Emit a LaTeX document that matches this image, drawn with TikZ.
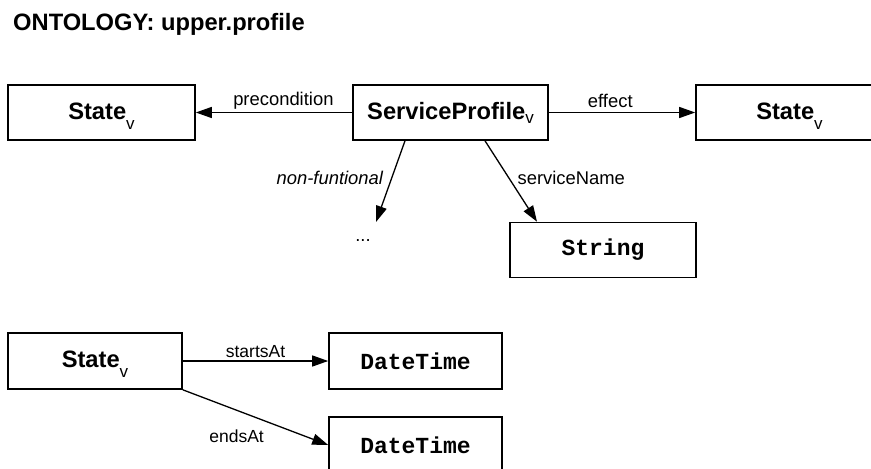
\documentclass[tikz,border=0pt]{standalone}
\usepackage{fontspec}
\setmainfont{Liberation Sans}
\setmonofont{Liberation Mono}
\usepackage{tikz}
\usetikzlibrary{arrows.meta,positioning}

\newcommand{\vsub}[1]{\raisebox{#1}{\fontsize{17}{17}\selectfont\mdseries v}}

\begin{document}
\begin{tikzpicture}[
    concept/.style={rectangle, draw=black, line width=1.6pt, minimum height=55pt, text height=18pt, text depth=5pt, font=\fontsize{23.7}{26}\selectfont\bfseries},
    literal/.style={rectangle, draw=black, line width=1.6pt, minimum height=55pt, font=\fontsize{23}{26}\selectfont\ttfamily\bfseries},
    prop/.style={font=\fontsize{18.4}{20}\selectfont},
    arrow/.style={line width=1.3pt, -{Triangle[length=16pt,width=11pt]}}
]
\path[use as bounding box, fill=white] (0,0) rectangle (871pt,-469pt);
\clip (0,0) rectangle (871pt,-469pt);
% Title
\node[anchor=base west, inner sep=0pt, font=\fontsize{23.7}{26}\selectfont\bfseries] (title) at (13pt,-30.5pt) {ONTOLOGY: upper.profile};
% Profile
\node[concept, minimum width=187pt] (pre) at (101.5pt,-112.5pt) {State\vsub{-10pt}};
\node[concept, minimum width=195pt, right of=pre, node distance=349pt] (profile) {ServiceProfile\vsub{-4.5pt}};
\node[concept, minimum width=187pt, right of=profile, node distance=339pt] (post) {State\vsub{-10pt}};
\node[literal, minimum width=186pt, below of=profile, node distance=137.5pt, xshift=152.5pt] (name) {String};
% Open end
\coordinate (more) at (376pt,-222pt);
\node[prop] (dots) at (363pt,-241pt) {...};
% State
\node[concept, minimum width=174pt, minimum height=56pt] (state) at (95pt,-361pt) {State\vsub{-10pt}};
\node[literal, minimum width=173pt, minimum height=56pt, right of=state, node distance=320.5pt] (start) {DateTime};
\node[literal, minimum width=173pt, minimum height=56pt, below of=start, node distance=84pt] (end) {DateTime};
% Arrows
\draw[arrow] (profile) -- node[prop, pos=0.44, above, inner sep=3pt] {precondition} (pre);
\draw[arrow] (profile) -- node[prop, pos=0.42, above, inner sep=4pt] {effect} (post);
\draw[arrow] ([xshift=-45.5pt]profile.south) -- node[prop, pos=0.46, left, inner sep=8pt, font=\fontsize{18.4}{20}\selectfont\itshape] {non-funtional} (more);
\draw[arrow] ([xshift=34.5pt]profile.south) -- node[prop, pos=0.46, right, inner sep=8pt] {serviceName} ([xshift=-66pt]name.north);
\draw[arrow] (state) -- node[prop, pos=0.5, above, inner sep=3pt, font=\fontsize{17.5}{20}\selectfont] {startsAt} (start);
\draw[arrow] (state.south east) -- node[prop, pos=0.37, below, yshift=-16pt, font=\fontsize{17.5}{20}\selectfont] {endsAt} (end.west);
\end{tikzpicture}
\end{document}
